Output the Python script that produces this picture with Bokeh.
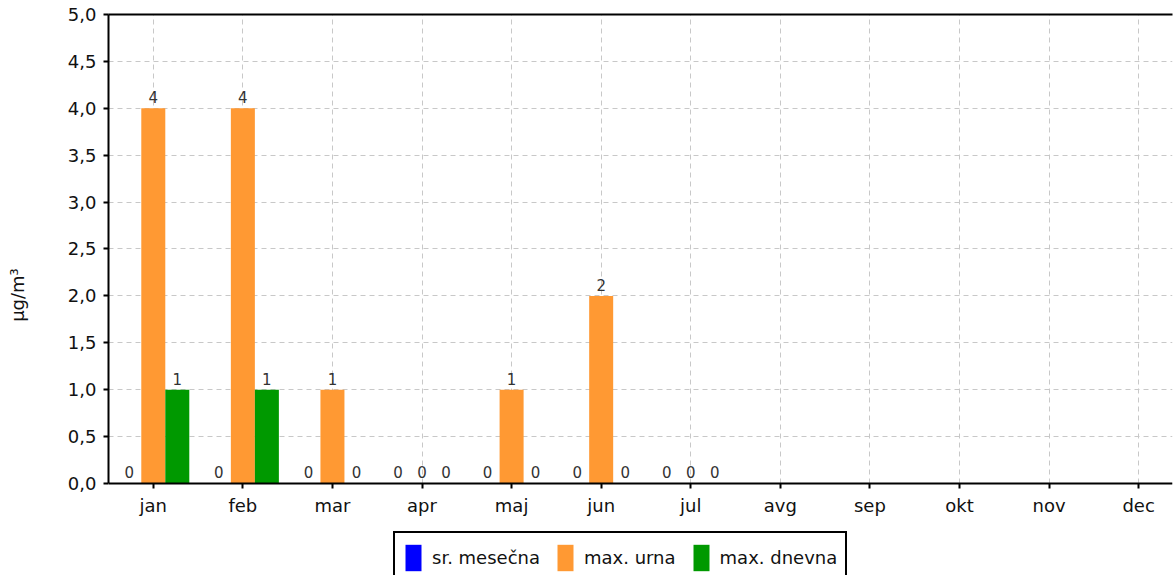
from bokeh.plotting import figure
from bokeh.models import (ColumnDataSource, Range1d, FixedTicker, CustomJSTickFormatter,
                          LinearAxis, Legend, LegendItem)
from bokeh.transform import dodge
from bokeh.core.properties import value
from bokeh.embed import file_html
from bokeh.resources import INLINE

months = ["jan", "feb", "mar", "apr", "maj", "jun", "jul", "avg", "sep", "okt", "nov", "dec"]
sr_mesecna = [0, 0, 0, 0, 0, 0, 0, None, None, None, None, None]
max_urna = [4, 4, 1, 0, 1, 2, 0, None, None, None, None, None]
max_dnevna = [1, 1, 0, 0, 0, 0, 0, None, None, None, None, None]
y_ticks = [0.0, 0.5, 1.0, 1.5, 2.0, 2.5, 3.0, 3.5, 4.0, 4.5, 5.0]

series = [
    ("sr. mesečna", sr_mesecna, "#0000FF", -0.268),
    ("max. urna", max_urna, "#FF9933", 0.0),
    ("max. dnevna", max_dnevna, "#009900", 0.268),
]

FONT = "DejaVu Sans"

# frame spans the whole height below the top border; the value axis covers 0..5,
# the space under 0 holds the month labels and the legend
p = figure(width=1174, height=575, output_backend="svg", toolbar_location=None,
           x_range=Range1d(0, 11.878), y_range=Range1d(-0.981, 5.0),
           min_border_left=108, min_border_right=2, min_border_top=14, min_border_bottom=0,
           background_fill_color="white", border_fill_color="white")
p.outline_line_color = None

centers = [i + 0.5 for i in range(len(months))]

items = []
for name, vals, color, off in series:
    xs = [c for c, v in zip(centers, vals) if v is not None]
    ys = [v for v in vals if v is not None]
    src = ColumnDataSource(dict(x=xs, y=ys, label=[str(v) for v in ys]))
    r = p.vbar(x=dodge("x", off), top="y", bottom=0, width=0.268, source=src,
               fill_color=color, line_color=None)
    p.text(x=dodge("x", off), y="y", text="label", source=src, text_align="center",
           text_baseline="alphabetic", y_offset=-11, text_font=value(FONT),
           text_font_size="15px", text_color="#333333")
    items.append(LegendItem(label=name, renderers=[r]))

# axes
p.xaxis.ticker = FixedTicker(ticks=centers)
p.xaxis.formatter = CustomJSTickFormatter(args=dict(m=months),
                                          code="return m[Math.round(tick - 0.5)];")
p.xaxis.fixed_location = 0
p.yaxis.ticker = FixedTicker(ticks=y_ticks)
p.yaxis.formatter = CustomJSTickFormatter(code="return tick.toFixed(1).replace('.', ',');")
p.yaxis.bounds = (0, 5.0)
for ax in (p.xaxis[0], p.yaxis[0]):
    ax.axis_line_width = 2
    ax.axis_line_color = "black"
    ax.major_tick_line_color = "black"
    ax.major_tick_line_width = 2
    ax.major_tick_out = 5
    ax.major_tick_in = 0
    ax.minor_tick_line_color = None
    ax.major_label_text_font = FONT
    ax.major_label_text_font_size = "18px"
    ax.major_label_text_color = "#111111"
    ax.major_label_standoff = 7
p.yaxis.axis_label = "μg/m³"
p.yaxis.axis_label_text_font = FONT
p.yaxis.axis_label_text_font_size = "18px"
p.yaxis.axis_label_text_font_style = "normal"
p.yaxis.axis_label_text_color = "#111111"
p.yaxis.axis_label_standoff = 37

top = LinearAxis(major_tick_line_color=None, minor_tick_line_color=None,
                 major_label_text_font_size="0px", axis_line_width=2, axis_line_color="black",
                 major_label_standoff=0)
top.ticker = FixedTicker(ticks=[])
p.add_layout(top, "above")

p.xgrid.ticker = FixedTicker(ticks=centers)
p.xgrid.cross_bounds = (0, 5.0)
p.ygrid.ticker = FixedTicker(ticks=y_ticks)
for g in (p.xgrid[0], p.ygrid[0]):
    g.grid_line_color = "#c8c8c8"
    g.grid_line_dash = "5 4"
    g.grid_line_width = 1

legend = Legend(items=items, orientation="horizontal", location=(285, -9),
                border_line_color="black", border_line_width=2, border_line_alpha=1.0,
                label_text_font=FONT, label_text_font_size="18px", label_text_color="#111111",
                glyph_width=20, glyph_height=33, label_standoff=9, spacing=15,
                padding=8, margin=0, background_fill_color="white")
p.add_layout(legend, "center")

open("out.html", "w").write(file_html(p, INLINE))
